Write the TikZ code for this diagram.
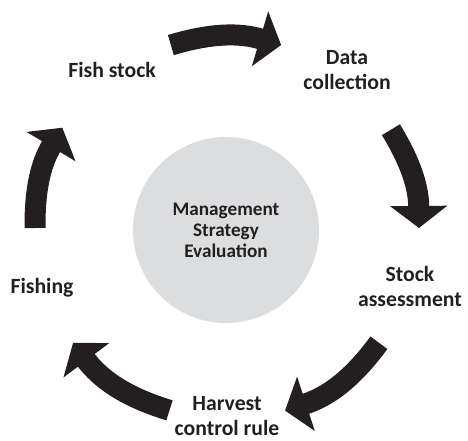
\documentclass[tikz,border=0pt]{standalone}
\usepackage{fontspec}
\setmainfont{Carlito}
\usetikzlibrary{arrows.meta}

\definecolor{ink}{HTML}{231F20}
\definecolor{msegray}{HTML}{DCDDDE}

\begin{document}
\begin{tikzpicture}[x=1pt,y=1pt,
  stage/.style={font=\fontsize{21.7}{25}\selectfont\bfseries,align=center,text=ink,inner sep=1pt},
  cyclearrow/.style={line width=21pt,draw=ink,-{Triangle[length=22pt,width=56pt]}}]

\useasboundingbox (-226,-211) rectangle (242,230);

\node (MSE) at (0,0) [circle,fill=msegray,minimum size=186pt,inner sep=0pt,align=center,text=ink,font=\fontsize{19.2}{21}\selectfont\bfseries] {Management\\Strategy\\Evaluation};

\node (Fish) at (-114,160) [stage] {Fish stock};
\node (Data) at (121,160) [stage] {Data\\collection};
\node (Assess) at (184,-56) [stage] {Stock\\assessment};
\node (Harvest) at (1,-186) [stage] {Harvest\\control rule};
\node (Fishing) at (-184,-58) [stage] {Fishing};

% ends of the arrows, on a ring round the circle
\coordinate (FishOut) at (106.6:193);
\coordinate (DataIn) at (73.4:193);
\coordinate (DataOut) at (31.3:193);
\coordinate (AssessIn) at (0.6:193);
\coordinate (AssessOut) at (-36.4:190);
\coordinate (HarvestIn) at (-71.9:190);
\coordinate (HarvestOut) at (-107.4:189);
\coordinate (FishingIn) at (-143.6:190);
\coordinate (FishingOut) at (179.4:191);
\coordinate (FishIn) at (148:193);

\draw[cyclearrow] (FishOut) to[bend left=16.6] (DataIn);
\draw[cyclearrow] (DataOut) to[bend left=15.4] (AssessIn);
\draw[cyclearrow] (AssessOut) to[bend left=17.8] (HarvestIn);
\draw[cyclearrow] (HarvestOut) to[bend left=18] (FishingIn);
\draw[cyclearrow] (FishingOut) to[bend left=15.7] (FishIn);

\end{tikzpicture}
\end{document}
